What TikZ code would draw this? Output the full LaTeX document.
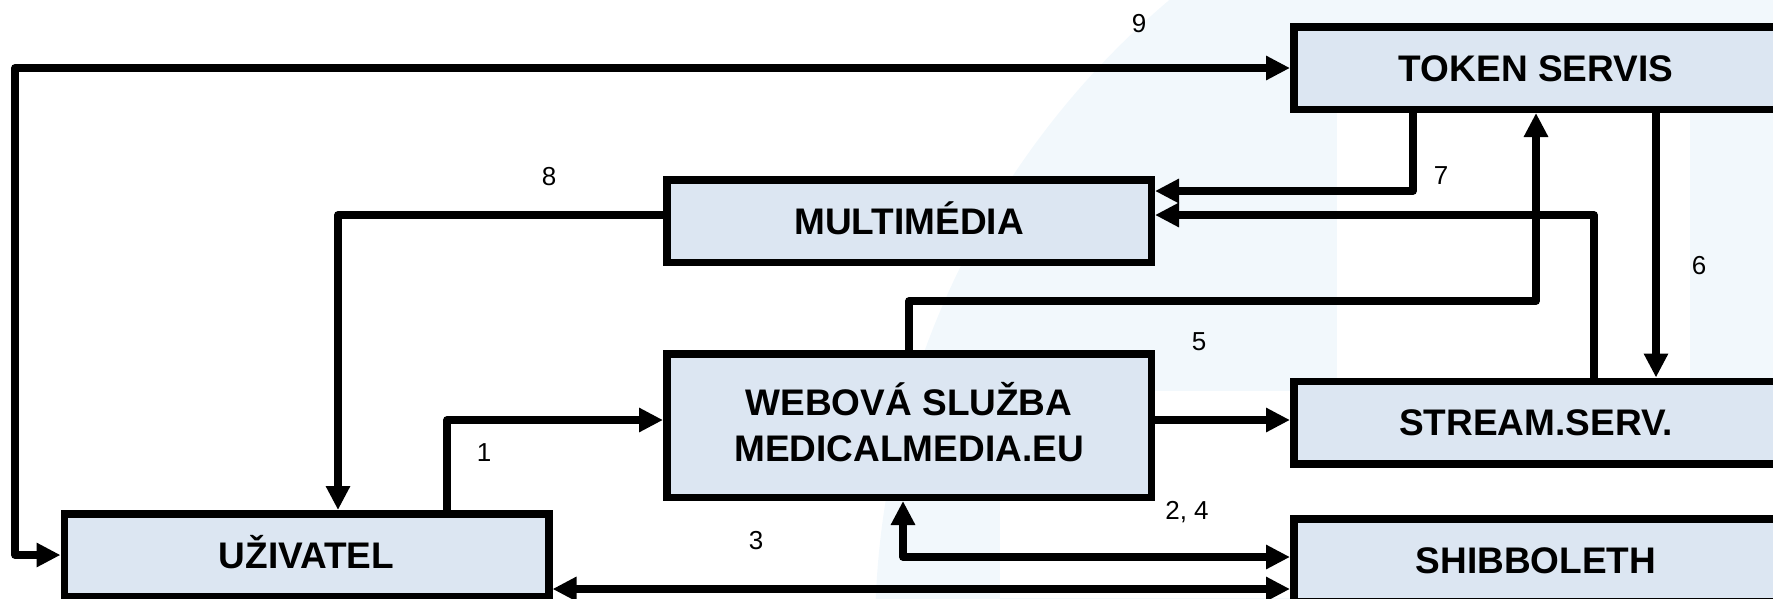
\documentclass[tikz,border=0pt]{standalone}
\usepackage{fontspec}
\setmainfont{Liberation Sans}
\usetikzlibrary{arrows.meta}
\definecolor{boxfill}{HTML}{DCE6F2}
\definecolor{wmark}{HTML}{F2F8FC}
\begin{document}
\begin{tikzpicture}[x=1pt,y=-1pt,
  >={Triangle[length=24pt,width=23pt]},
  box/.style={draw=black, line width=7.5pt, fill=boxfill, minimum width=484.5pt,
    minimum height=82.5pt, inner sep=0pt, font=\fontsize{37}{46}\selectfont\bfseries,
    text height=26.5pt, text depth=0pt, align=center},
  conn/.style={draw=black, line width=7.5pt, line join=round},
  lbl/.style={font=\fontsize{26}{30}\selectfont, inner sep=0pt, text height=18.7pt, text depth=0pt}]
\clip (0,0) rectangle (1773,598);
% faint background watermark
\fill[wmark] (1705,634) circle[radius=830];
\fill[white] (1337,30) rectangle (1690,598);
\fill[white] (1000,391) rectangle (1773,598);
% boxes
\node[box] (token) at (1536,68) {TOKEN SERVIS};
\node[box] (mm) at (909,221) {MULTIMÉDIA};
\node[box, minimum height=143.5pt, text height=72.5pt] (web) at (909,425.5) {WEBOVÁ SLUŽBA\\MEDICALMEDIA.EU};
\node[box] (stream) at (1536,422.5) {STREAM.SERV.};
\node[box] (uziv) at (306.5,555) {UŽIVATEL};
\node[box] (shib) at (1536,560) {SHIBBOLETH};
% bend points
\coordinate (c9) at (15,68);
\coordinate (c8) at (338,215);
\coordinate (c1) at (447,420);
\coordinate (c5) at (909,301);
\coordinate (c7) at (1413,191);
\coordinate (c10) at (1594,215);
\coordinate (c6) at (1656,200);
\coordinate (c11) at (1220,420);
\coordinate (c24) at (903,557);
\coordinate (c3) at (900,589);
% connectors
\draw[conn,<->] (uziv.west) -| (c9) -- (token.west);
\draw[conn,->] ([yshift=6pt]mm.west) -- (c8) -- (c8 |- uziv.north);
\draw[conn,->] (c1 |- uziv.north) -- (c1) -- (c1 -| web.west);
\draw[conn,->] (web.north) -- (c5) -| (token.south);
\draw[conn,->] (c7 |- token.south) -- (c7) -- (c7 -| mm.east);
\draw[conn,->] (c10 |- stream.north) -- (c10) -- (c10 -| mm.east);
\draw[conn,->] (c6 |- token.south) -- (c6 |- stream.north);
\draw[conn,->] (c11 -| web.east) -- (c11 -| stream.west);
\draw[conn,<->] (c24 |- web.south) -- (c24) -- (c24 -| shib.west);
\draw[conn,<->] (c3 -| uziv.east) -- (c3 -| shib.west);
% labels
\node[lbl] (l9) at (1139,23) {9};
\node[lbl] (l8) at (549,176) {8};
\node[lbl] (l7) at (1441,175) {7};
\node[lbl] (l6) at (1699,265) {6};
\node[lbl] (l5) at (1199,341) {5};
\node[lbl] (l1) at (484,452) {1};
\node[lbl] (l3) at (756,540) {3};
\node[lbl] (l24) at (1187,510) {2, 4};
\end{tikzpicture}
\end{document}
